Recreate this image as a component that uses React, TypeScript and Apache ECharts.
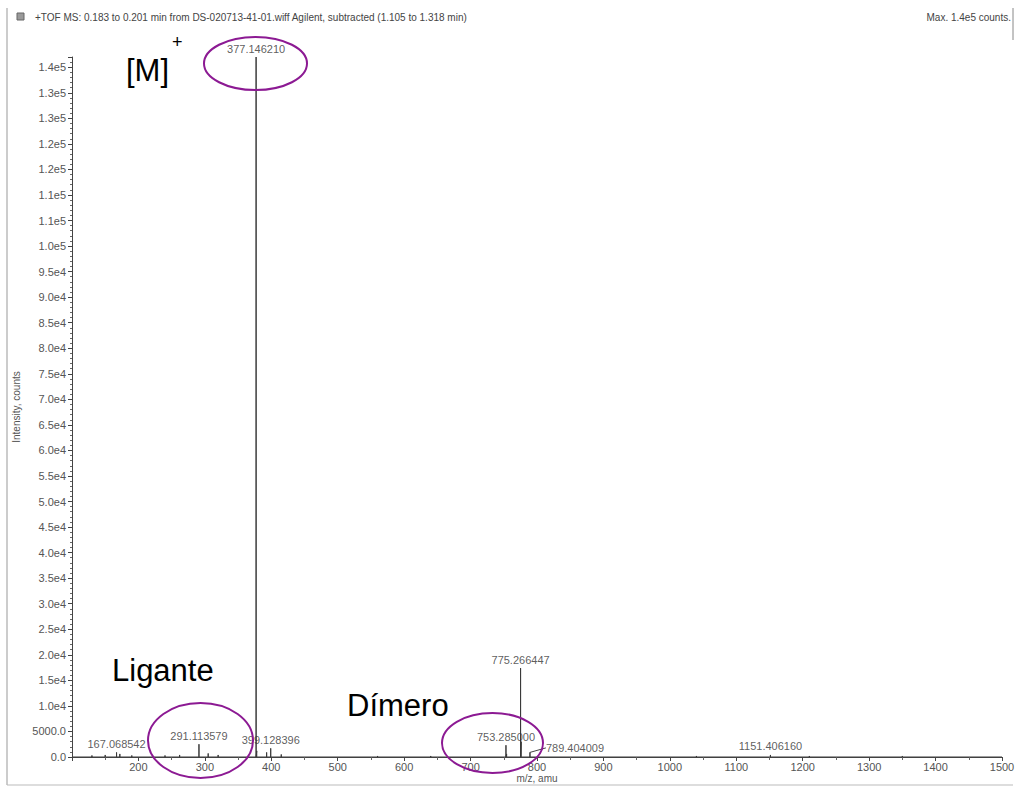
import React, { useEffect, useRef } from "react";
import * as echarts from "echarts";

// m/z values and intensities (counts) of the labelled peaks
const peakMz = [167.068542, 291.113579, 377.14621, 399.128396, 753.285, 775.266447, 789.404009, 1151.40616];
const peakLabels = ["167.068542", "291.113579", "377.146210", "399.128396", "753.285000", "775.266447", "789.404009", "1151.406160"];
const peakIntensity = [900, 2500, 137000, 1700, 2300, 17400, 900, 400];

// small unlabelled peaks / noise
const minorMz = [130, 150, 172, 190, 240, 262, 305, 320, 378.15, 393, 415, 560, 640, 754.3, 776.27, 1040, 1210, 1350];
const minorIntensity = [300, 400, 600, 300, 300, 400, 700, 400, 1200, 900, 500, 200, 200, 600, 3000, 200, 200, 200];

const yTickLabels = [
  "0.0", "5000.0", "1.0e4", "1.5e4", "2.0e4", "2.5e4", "3.0e4", "3.5e4", "4.0e4", "4.5e4",
  "5.0e4", "5.5e4", "6.0e4", "6.5e4", "7.0e4", "7.5e4", "8.0e4", "8.5e4", "9.0e4", "9.5e4",
  "1.0e5", "1.1e5", "1.1e5", "1.2e5", "1.2e5", "1.3e5", "1.3e5", "1.4e5",
];

const titleText = "+TOF MS: 0.183 to 0.201 min from DS-020713-41-01.wiff Agilent, subtracted (1.105 to 1.318 min)";
const maxText = "Max. 1.4e5 counts.";

const FONT = "'Liberation Sans', Arial, sans-serif";
const PURPLE = "#8c1a93";

export default function App() {
  const ref = useRef<HTMLDivElement>(null);

  useEffect(() => {
    if (!ref.current) return;
    const chart = echarts.init(ref.current, undefined, { renderer: "svg" });

    const all: [number, number][] = [];
    peakMz.forEach((m, i) => all.push([m, peakIntensity[i]]));
    minorMz.forEach((m, i) => all.push([m, minorIntensity[i]]));
    all.sort((a, b) => a[0] - b[0]);
    const stick: [number, number][] = [[100, 0]];
    all.forEach(([m, v]) => {
      stick.push([m, 0], [m, v], [m, 0]);
    });
    stick.push([1500, 0]);

    const labelData = peakMz.map((m, i) => {
      const item: any = { value: [m, peakIntensity[i]], name: peakLabels[i] };
      if (peakLabels[i] === "789.404009") {
        item.labelLine = { show: true, lineStyle: { color: "#444", width: 1 } };
      }
      return item;
    });

    chart.setOption({
      animation: false,
      backgroundColor: "#ffffff",
      textStyle: { fontFamily: FONT },
      grid: { left: 72, right: 19, top: 57, bottom: 29, containLabel: false, outerBoundsMode: "none" },
      xAxis: {
        type: "value",
        min: 100,
        max: 1500,
        interval: 100,
        name: "m/z, amu",
        nameLocation: "middle",
        nameGap: 16,
        nameMoveOverlap: false,
        nameTextStyle: { color: "#555", fontSize: 10, fontFamily: FONT, verticalAlign: "top", lineHeight: 10 },
        axisLine: { show: true, lineStyle: { color: "#444", width: 1 } },
        axisTick: { show: true, length: 4, lineStyle: { color: "#444" } },
        minorTick: { show: true, splitNumber: 2, length: 3, lineStyle: { color: "#666" } },
        splitLine: { show: false },
        axisLabel: {
          color: "#555",
          fontSize: 11,
          fontFamily: FONT,
          margin: 4,
          formatter: (v: number) => (v === 100 ? "" : String(v)),
        },
      },
      yAxis: {
        type: "value",
        min: 0,
        max: 137000,
        interval: 5000,
        name: "Intensity, counts",
        nameLocation: "middle",
        nameGap: 50,
        nameRotate: 90,
        nameTextStyle: { color: "#555", fontSize: 10, fontFamily: FONT },
        axisLine: { show: true, lineStyle: { color: "#444", width: 1 } },
        axisTick: { show: true, length: 4, lineStyle: { color: "#444" } },
        minorTick: { show: true, splitNumber: 5, length: 2, lineStyle: { color: "#666" } },
        splitLine: { show: false },
        axisLabel: {
          color: "#555",
          fontSize: 11,
          fontFamily: FONT,
          margin: 6,
          showMaxLabel: false,
          formatter: (v: number) => {
            const k = Math.round(v / 5000);
            return Math.abs(k * 5000 - v) < 1 ? yTickLabels[k] ?? "" : "";
          },
        },
      },
      series: [
        {
          type: "line",
          data: stick,
          showSymbol: false,
          symbol: "none",
          lineStyle: { color: "#3a3a3a", width: 1 },
          silent: true,
          z: 2,
        },
        {
          type: "scatter",
          data: labelData,
          symbolSize: 0,
          silent: true,
          label: {
            show: true,
            position: "top",
            distance: 3,
            color: "#333",
            fontSize: 11,
            fontFamily: FONT,
            formatter: (p: any) => p.name,
          },
          labelLayout: (p: any) =>
            p.dataIndex === 6 ? { dx: 45, dy: 4 } : {},
          labelLine: { show: false },
          z: 3,
        },
      ],
      graphic: [
        // frame lines
        { type: "line", shape: { x1: 7, y1: 8, x2: 7, y2: 785 }, style: { stroke: "#999", lineWidth: 1 } },
        { type: "line", shape: { x1: 7, y1: 785, x2: 1013, y2: 785 }, style: { stroke: "#bbb", lineWidth: 1 } },
        { type: "line", shape: { x1: 1013, y1: 8, x2: 1013, y2: 40 }, style: { stroke: "#888", lineWidth: 1 } },
        // header
        { type: "rect", shape: { x: 17, y: 13, width: 7, height: 7 }, style: { fill: "#9a9a9a", stroke: "#666", lineWidth: 1 } },
        {
          type: "text",
          x: 35,
          y: 17,
          style: { text: titleText, fill: "#444", font: `10px ${FONT}`, textVerticalAlign: "middle" },
        },
        {
          type: "text",
          x: 1011,
          y: 17,
          style: { text: maxText, fill: "#444", font: `10px ${FONT}`, textAlign: "right", textVerticalAlign: "middle" },
        },
        // annotations
        {
          type: "text",
          x: 126,
          y: 70,
          style: { text: "[M]", fill: "#000", font: `31px ${FONT}`, textVerticalAlign: "middle" },
        },
        {
          type: "text",
          x: 172,
          y: 42,
          style: { text: "+", fill: "#000", font: `18px ${FONT}`, textVerticalAlign: "middle" },
        },
        {
          type: "text",
          x: 112,
          y: 670,
          style: { text: "Ligante", fill: "#000", font: `31px ${FONT}`, textVerticalAlign: "middle" },
        },
        {
          type: "text",
          x: 347,
          y: 705,
          style: { text: "Dímero", fill: "#000", font: `31px ${FONT}`, textVerticalAlign: "middle" },
        },
        {
          type: "ellipse",
          shape: { cx: 255.5, cy: 63.5, rx: 51.5, ry: 26.5 },
          style: { fill: "none", stroke: PURPLE, lineWidth: 2 },
          z: 10,
        },
        {
          type: "ellipse",
          shape: { cx: 200.5, cy: 740.5, rx: 52.5, ry: 37.5 },
          style: { fill: "none", stroke: PURPLE, lineWidth: 2 },
          z: 10,
        },
        {
          type: "ellipse",
          shape: { cx: 492.5, cy: 743, rx: 50.5, ry: 30 },
          style: { fill: "none", stroke: PURPLE, lineWidth: 2 },
          z: 10,
        },
      ],
    });

    return () => chart.dispose();
  }, []);

  return (
    <div
      ref={ref}
      style={{ position: "fixed", left: 0, top: 0, width: 1021, height: 786 }}
    />
  );
}
